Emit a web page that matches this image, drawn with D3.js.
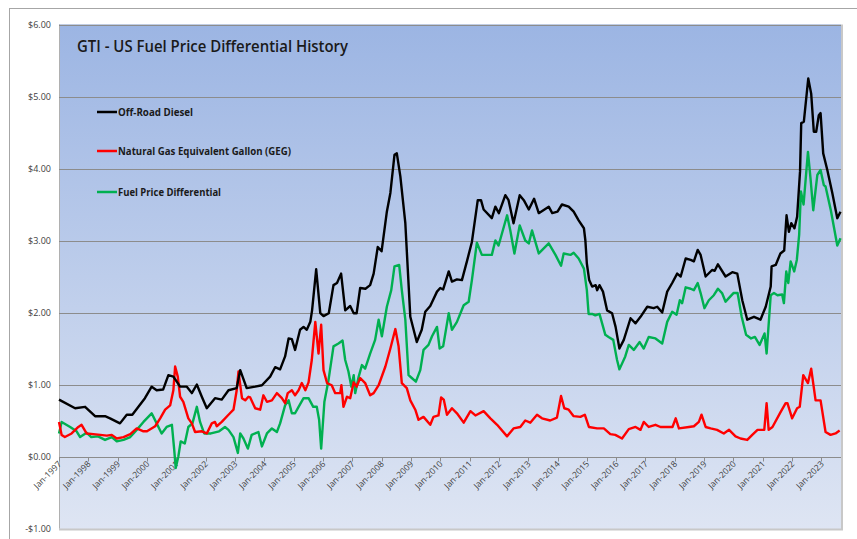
<!DOCTYPE html>
<html><head><meta charset="utf-8">
<script src="https://cdn.jsdelivr.net/npm/d3@7"></script>
<style>body{margin:0;background:#fff}svg{display:block}text{font-family:"Open Sans",sans-serif}</style>
</head><body><svg id="c" width="857" height="539"></svg>
<script>
const title = "GTI - US Fuel Price Differential History";
const seriesNames = ["Off-Road Diesel","Natural Gas Equivalent Gallon (GEG)","Fuel Price Differential"];
const seriesColors = ["#000000","#FF0000","#00B050"];
const yTicks = [-1,0,1,2,3,4,5,6];
const xYears = d3.range(1997, 2024);

const dieselT = [1997.0,1997.55,1997.89,1998.23,1998.57,1998.74,1999.08,1999.31,1999.5,1999.93,2000.16,2000.33,2000.55,2000.73,2000.9,2001.13,2001.36,2001.53,2001.7,2001.87,2002.04,2002.32,2002.55,2002.78,2003.06,2003.18,2003.4,2003.69,2003.92,2004.2,2004.37,2004.54,2004.71,2004.83,2004.94,2005.05,2005.22,2005.34,2005.45,2005.57,2005.63,2005.77,2005.91,2006.02,2006.2,2006.36,2006.48,2006.62,2006.76,2006.93,2007.05,2007.15,2007.27,2007.45,2007.61,2007.73,2007.87,2008.0,2008.18,2008.3,2008.44,2008.52,2008.64,2008.81,2008.98,2009.2,2009.37,2009.49,2009.66,2009.89,2010.0,2010.1,2010.29,2010.4,2010.57,2010.74,2010.91,2011.08,2011.28,2011.39,2011.48,2011.76,2011.88,2012.0,2012.22,2012.33,2012.5,2012.71,2012.85,2013.02,2013.2,2013.36,2013.7,2013.82,2014.0,2014.15,2014.38,2014.55,2014.72,2014.9,2014.95,2015.0,2015.08,2015.18,2015.3,2015.35,2015.43,2015.55,2015.69,2015.86,2015.98,2016.11,2016.26,2016.49,2016.66,2016.83,2017.06,2017.28,2017.4,2017.57,2017.74,2017.91,2018.08,2018.2,2018.37,2018.54,2018.65,2018.78,2018.88,2019.05,2019.27,2019.36,2019.47,2019.73,2019.96,2020.13,2020.3,2020.47,2020.7,2020.92,2021.1,2021.27,2021.3,2021.44,2021.6,2021.73,2021.81,2021.89,2021.97,2022.08,2022.17,2022.27,2022.31,2022.4,2022.55,2022.65,2022.74,2022.82,2022.91,2022.97,2023.06,2023.2,2023.37,2023.54,2023.65];
const dieselV = [0.79,0.67,0.69,0.56,0.56,0.53,0.46,0.58,0.58,0.81,0.97,0.92,0.93,1.13,1.11,0.97,0.97,0.88,1.00,0.83,0.67,0.81,0.79,0.92,0.95,1.20,0.95,0.97,0.99,1.11,1.24,1.21,1.39,1.64,1.63,1.48,1.76,1.80,1.76,1.87,2.03,2.60,1.99,1.95,1.99,2.38,2.41,2.54,2.03,2.09,1.99,1.99,2.34,2.33,2.38,2.54,2.91,2.85,3.40,3.66,4.19,4.21,3.89,3.24,1.94,1.59,1.76,2.01,2.09,2.29,2.34,2.32,2.57,2.43,2.46,2.45,2.71,2.98,3.56,3.56,3.43,3.31,3.47,3.38,3.63,3.56,3.24,3.63,3.56,3.43,3.58,3.38,3.47,3.38,3.40,3.50,3.47,3.40,3.28,3.17,3.00,2.68,2.45,2.36,2.38,2.31,2.38,2.29,2.03,1.99,1.80,1.50,1.62,1.92,1.85,1.94,2.08,2.06,2.08,2.00,2.29,2.41,2.54,2.50,2.75,2.73,2.71,2.87,2.80,2.50,2.59,2.58,2.67,2.50,2.56,2.54,2.17,1.90,1.94,1.90,2.08,2.36,2.64,2.66,2.82,2.86,3.35,3.12,3.24,3.17,3.33,3.96,4.63,4.65,5.25,5.04,4.51,4.51,4.74,4.77,4.21,3.98,3.66,3.31,3.40];

const gegT = [1997.0,1997.09,1997.2,1997.43,1997.66,1997.77,1997.94,1998.17,1998.41,1998.63,1998.8,1998.97,1999.2,1999.43,1999.65,1999.88,2000.0,2000.28,2000.45,2000.62,2000.79,2000.9,2000.96,2001.05,2001.13,2001.24,2001.41,2001.53,2001.64,2001.87,2002.04,2002.21,2002.32,2002.38,2002.55,2002.78,2002.95,2003.06,2003.12,2003.24,2003.35,2003.46,2003.52,2003.69,2003.86,2003.97,2004.09,2004.26,2004.43,2004.6,2004.71,2004.8,2004.94,2005.05,2005.17,2005.28,2005.4,2005.51,2005.62,2005.74,2005.79,2005.85,2005.94,2006.02,2006.14,2006.3,2006.42,2006.59,2006.63,2006.7,2006.82,2006.93,2007.05,2007.15,2007.27,2007.44,2007.61,2007.73,2007.9,2008.13,2008.3,2008.47,2008.58,2008.69,2008.86,2008.98,2009.15,2009.26,2009.43,2009.66,2009.77,2009.94,2010.03,2010.12,2010.23,2010.4,2010.57,2010.8,2011.03,2011.2,2011.48,2011.71,2011.94,2012.28,2012.5,2012.73,2012.9,2013.07,2013.3,2013.47,2013.75,2013.98,2014.12,2014.23,2014.38,2014.55,2014.78,2014.93,2015.07,2015.35,2015.58,2015.8,2015.97,2016.2,2016.43,2016.66,2016.83,2016.94,2017.11,2017.34,2017.51,2017.74,2017.92,2018.03,2018.14,2018.48,2018.65,2018.82,2018.91,2019.05,2019.22,2019.44,2019.67,2019.85,2020.07,2020.24,2020.47,2020.64,2020.82,2021.05,2021.13,2021.2,2021.33,2021.61,2021.78,2021.84,2022.0,2022.17,2022.26,2022.38,2022.54,2022.65,2022.8,2022.97,2023.14,2023.31,2023.48,2023.62];
const gegV = [0.48,0.30,0.27,0.32,0.41,0.44,0.32,0.31,0.30,0.29,0.30,0.25,0.27,0.31,0.39,0.35,0.35,0.42,0.53,0.65,0.71,0.92,1.25,1.11,0.83,0.76,0.53,0.46,0.34,0.35,0.32,0.46,0.48,0.42,0.48,0.58,0.65,0.92,1.18,0.81,0.78,0.83,0.82,0.67,0.65,0.85,0.76,0.78,0.88,0.81,0.74,0.88,0.92,0.85,0.92,1.02,0.92,1.03,1.34,1.87,1.67,1.43,1.83,1.20,1.02,0.99,0.88,0.88,0.99,0.69,0.83,0.81,1.03,0.97,1.09,1.02,0.85,0.88,0.99,1.25,1.50,1.77,1.53,1.02,0.95,0.78,0.65,0.51,0.55,0.44,0.55,0.57,0.82,0.79,0.58,0.67,0.60,0.47,0.63,0.57,0.63,0.53,0.44,0.28,0.39,0.41,0.50,0.47,0.58,0.53,0.50,0.54,0.84,0.67,0.65,0.56,0.55,0.58,0.41,0.39,0.39,0.31,0.30,0.25,0.38,0.41,0.37,0.48,0.41,0.44,0.41,0.41,0.41,0.53,0.39,0.41,0.42,0.48,0.58,0.41,0.39,0.37,0.32,0.37,0.28,0.25,0.23,0.30,0.37,0.37,0.74,0.37,0.41,0.62,0.74,0.74,0.53,0.67,0.69,1.13,1.02,1.22,0.78,0.78,0.34,0.30,0.32,0.36];

const diffT = [1997.0,1997.09,1997.38,1997.6,1997.72,1997.94,1998.1,1998.33,1998.57,1998.8,1998.97,1999.2,1999.43,1999.65,1999.88,2000.16,2000.33,2000.5,2000.67,2000.85,2000.93,2000.98,2001.07,2001.15,2001.29,2001.41,2001.55,2001.7,2001.81,2001.95,2002.18,2002.46,2002.66,2002.78,2002.95,2003.1,2003.18,2003.29,2003.44,2003.57,2003.8,2003.92,2004.09,2004.26,2004.43,2004.54,2004.71,2004.83,2004.94,2005.05,2005.17,2005.34,2005.51,2005.67,2005.79,2005.87,2005.94,2006.05,2006.19,2006.36,2006.53,2006.67,2006.76,2006.87,2006.97,2007.05,2007.1,2007.22,2007.33,2007.44,2007.61,2007.78,2007.9,2008.01,2008.18,2008.33,2008.44,2008.6,2008.69,2008.81,2008.92,2009.03,2009.17,2009.32,2009.43,2009.6,2009.72,2009.89,2009.98,2010.1,2010.29,2010.4,2010.57,2010.8,2010.97,2011.08,2011.25,2011.42,2011.76,2011.88,2011.99,2012.28,2012.39,2012.53,2012.71,2012.9,2013.02,2013.13,2013.36,2013.7,2013.93,2014.12,2014.21,2014.44,2014.55,2014.72,2014.9,2015.0,2015.06,2015.18,2015.29,2015.43,2015.63,2015.74,2015.9,2016.03,2016.11,2016.31,2016.43,2016.6,2016.8,2016.94,2017.11,2017.34,2017.57,2017.74,2017.91,2018.06,2018.17,2018.25,2018.37,2018.54,2018.65,2018.78,2018.88,2019.01,2019.16,2019.33,2019.47,2019.61,2019.73,2019.84,2020.0,2020.14,2020.28,2020.43,2020.6,2020.73,2020.89,2021.06,2021.13,2021.27,2021.38,2021.5,2021.66,2021.72,2021.8,2021.87,2021.95,2022.07,2022.16,2022.24,2022.3,2022.39,2022.54,2022.63,2022.72,2022.86,2022.97,2023.08,2023.14,2023.32,2023.54,2023.65];
const diffV = [0.32,0.48,0.41,0.35,0.27,0.33,0.27,0.28,0.23,0.27,0.21,0.23,0.27,0.37,0.48,0.60,0.46,0.32,0.41,0.44,0.09,-0.16,0.00,0.21,0.18,0.41,0.46,0.69,0.48,0.32,0.32,0.35,0.41,0.37,0.27,0.05,0.32,0.25,0.11,0.30,0.34,0.14,0.32,0.39,0.34,0.46,0.71,0.78,0.60,0.60,0.69,0.81,0.81,0.69,0.69,0.51,0.11,0.76,1.06,1.53,1.57,1.61,1.34,1.18,0.97,1.13,0.88,1.11,1.27,1.22,1.43,1.62,1.90,1.67,2.08,2.31,2.64,2.66,2.31,1.90,1.13,1.09,1.04,1.20,1.48,1.55,1.67,1.80,1.50,1.53,1.99,1.76,1.87,2.10,2.15,2.45,2.97,2.80,2.80,3.00,2.93,3.35,3.14,2.82,3.21,3.00,2.96,3.14,2.82,2.96,2.80,2.65,2.82,2.80,2.83,2.75,2.61,2.31,1.98,1.98,1.96,1.98,1.69,1.66,1.62,1.34,1.21,1.39,1.55,1.48,1.59,1.50,1.66,1.64,1.57,1.87,2.01,1.97,2.17,2.13,2.35,2.33,2.31,2.41,2.27,2.06,2.17,2.24,2.33,2.27,2.15,2.20,2.27,2.27,1.94,1.69,1.64,1.66,1.55,1.71,1.43,2.24,2.27,2.24,2.25,2.13,2.57,2.41,2.71,2.57,2.73,3.08,3.68,3.50,4.23,3.85,3.42,3.91,3.98,3.77,3.75,3.42,2.93,3.03];

const svg = d3.select("#c");
const L = 59, R = 841, T = 24.5, B = 528.5;
const x = d3.scaleLinear().domain([1997, 1997 + 320/12]).range([L, R]);
const y = d3.scaleLinear().domain([-1, 6]).range([B, T]);

// outer frame
svg.append("rect").attr("x",9.5).attr("y",8.5).attr("width",870).attr("height",560)
  .attr("fill","#fff").attr("stroke","#A6A6A6").attr("stroke-width",1);

const defs = svg.append("defs");
const g = defs.append("linearGradient").attr("id","bg").attr("x1",0).attr("y1",0).attr("x2",0).attr("y2",1);
g.append("stop").attr("offset","0%").attr("stop-color","#9CB5E3");
g.append("stop").attr("offset","100%").attr("stop-color","#DEE5F3");

// plot area shadow borders
svg.append("rect").attr("x",L).attr("y",T).attr("width",R-L+2).attr("height",B-T+2).attr("fill","#C8C8C8");
svg.append("rect").attr("x",L).attr("y",T).attr("width",R-L).attr("height",B-T).attr("fill","url(#bg)");
svg.append("line").attr("x1",L+0.5).attr("x2",L+0.5).attr("y1",T).attr("y2",B).attr("stroke","#B0B0B0");

// gridlines
svg.append("g").selectAll("line").data(yTicks.filter(d => d > -1)).join("line")
  .attr("x1",L).attr("x2",R).attr("y1",d => Math.round(y(d))+0.5).attr("y2",d => Math.round(y(d))+0.5)
  .attr("stroke","#8C8C8C").attr("stroke-width",1);

// y labels
svg.append("g").selectAll("text").data(yTicks).join("text")
  .attr("x",51).attr("y",d => y(d)+3).attr("text-anchor","end")
  .attr("font-size","9px").attr("fill","#404040")
  .text(d => (d < 0 ? "-$" : "$") + Math.abs(d).toFixed(2));

// x axis ticks
const y0 = Math.round(y(0))+0.5;
svg.append("g").selectAll("line").data(xYears).join("line")
  .attr("x1",d => Math.round(x(d))+0.5).attr("x2",d => Math.round(x(d))+0.5)
  .attr("y1",y0).attr("y2",y0+4).attr("stroke","#8C8C8C");
svg.append("g").selectAll("text").data(xYears).join("text")
  .attr("transform",d => `translate(${x(d)+3},${y0+7}) rotate(-45)`)
  .attr("text-anchor","end").attr("font-size","8.5px").attr("fill","#404040")
  .attr("textLength",35).attr("lengthAdjust","spacingAndGlyphs")
  .text(d => "Jan-" + d);

// lines
const series = [[dieselT, dieselV],[gegT, gegV],[diffT, diffV]];
const line = d3.line().x(d => x(d[0])).y(d => y(d[1]));
const order = [2,1,0];
order.forEach(i => {
  const [t, v] = series[i];
  svg.append("path").datum(t.map((tt, k) => [tt, v[k]]))
    .attr("d", line).attr("fill","none").attr("stroke",seriesColors[i])
    .attr("stroke-width",2.4).attr("stroke-linejoin","round");
});

// title
svg.append("text").attr("x",77).attr("y",52).attr("font-size","17px").attr("font-weight",600)
  .attr("fill","#1a1a1a").attr("textLength",271).attr("lengthAdjust","spacingAndGlyphs").text(title);

// legend
const legY = [112, 151, 192];
const legW = [75, 173, 103];
seriesNames.forEach((n, i) => {
  svg.append("line").attr("x1",97).attr("x2",117).attr("y1",legY[i]).attr("y2",legY[i])
    .attr("stroke",seriesColors[i]).attr("stroke-width",2.5);
  svg.append("text").attr("x",118).attr("y",legY[i]+3.5).attr("font-size","10px").attr("font-weight",700)
    .attr("fill","#1a1a1a").attr("textLength",legW[i]).attr("lengthAdjust","spacingAndGlyphs").text(n);
});
</script></body></html>
